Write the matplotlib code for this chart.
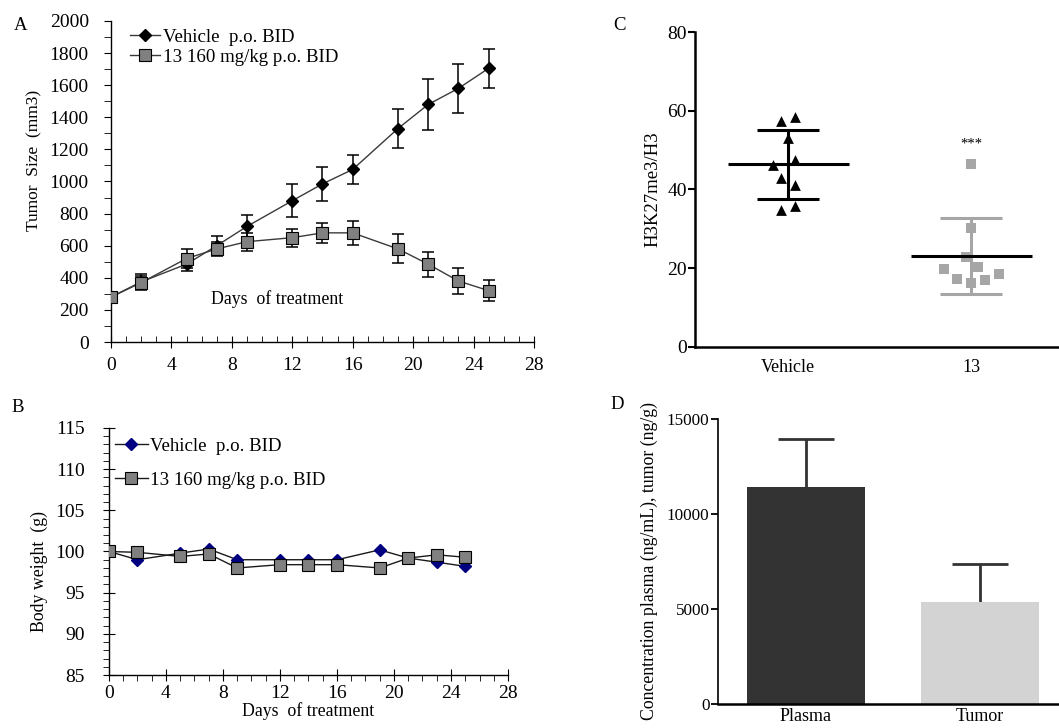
import numpy as np
import matplotlib
matplotlib.use('Agg')
import matplotlib.pyplot as plt
from matplotlib.ticker import MultipleLocator

plt.rcParams['font.family'] = ['Liberation Serif', 'DejaVu Serif']
plt.rcParams['axes.linewidth'] = 1.0

# ---- data ----
days = [0, 2, 5, 7, 9, 12, 14, 16, 19, 21, 23, 25]

# A: tumor size (mm3)
tumor_vehicle = [280, 375, 485, 600, 720, 880, 985, 1075, 1330, 1480, 1580, 1705]
tumor_vehicle_err = [20, 50, 45, 60, 70, 103, 105, 93, 120, 157, 155, 120]
tumor_13 = [280, 370, 520, 580, 625, 650, 680, 680, 580, 485, 380, 320]
tumor_13_err = [20, 40, 58, 45, 55, 55, 63, 75, 90, 78, 78, 65]

# B: body weight (g)
bw_vehicle = [100.0, 99.0, 99.8, 100.3, 99.0, 99.0, 99.0, 99.0, 100.2, 99.2, 98.7, 98.2]
bw_13 = [100.0, 99.9, 99.4, 99.7, 98.0, 98.4, 98.4, 98.4, 98.0, 99.2, 99.6, 99.3]

labels_ab = ['Vehicle  p.o. BID', '13 160 mg/kg p.o. BID']

# C: H3K27me3/H3
c_groups = ['Vehicle', '13']
c_vehicle = [57.4, 58.5, 53.2, 46.2, 47.5, 42.8, 41.1, 34.9, 35.7]
c_vehicle_jit = [-0.04, 0.038, 0.0, -0.082, 0.038, -0.04, 0.038, -0.04, 0.038]
c_13 = [46.4, 30.1, 22.8, 20.3, 19.7, 18.6, 17.3, 17.0, 16.2]
c_13_jit = [0.0, 0.0, -0.031, 0.036, -0.151, 0.151, -0.077, 0.077, 0.0]

# D: concentrations
d_groups = ['Plasma', 'Tumor']
d_means = [11400, 5350]
d_err = [2550, 2030]

fig = plt.figure(figsize=(10.59, 7.28), dpi=100)

# ---------------- A ----------------
axA = fig.add_axes([0.1048, 0.5302, 0.3994, 0.441])
axA.errorbar(days, tumor_vehicle, yerr=tumor_vehicle_err, fmt='none', ecolor='black',
             elinewidth=1.1, capsize=4, capthick=1.1, zorder=2)
axA.errorbar(days, tumor_13, yerr=tumor_13_err, fmt='none', ecolor='black',
             elinewidth=1.1, capsize=4, capthick=1.1, zorder=2)
axA.plot(days, tumor_vehicle, color='#3a3a3a', lw=1.0, marker='D', ms=6,
         mfc='black', mec='black', label=labels_ab[0], zorder=3)
axA.plot(days, tumor_13, color='#3a3a3a', lw=1.0, marker='s', ms=8,
         mfc='#808080', mec='black', mew=0.8, label=labels_ab[1], zorder=4)
axA.set_xlim(0, 28)
axA.set_ylim(0, 2000)
axA.xaxis.set_major_locator(MultipleLocator(4))
axA.xaxis.set_minor_locator(MultipleLocator(1))
axA.yaxis.set_major_locator(MultipleLocator(200))
axA.yaxis.set_minor_locator(MultipleLocator(100))
axA.tick_params(axis='x', which='major', direction='inout', length=8, labelsize=14, pad=7)
axA.tick_params(axis='x', which='minor', direction='in', length=4)
axA.tick_params(axis='y', which='both', direction='out', length=5, labelsize=14, pad=11)
axA.spines['top'].set_visible(False)
axA.spines['right'].set_visible(False)
axA.set_ylabel('Tumor  Size  (mm3)', fontsize=12.5)
axA.yaxis.set_label_coords(-0.161, 0.566)
axA.text(11, 270, 'Days  of treatment', fontsize=12.8, ha='center', va='center')
axA.legend(loc='upper left', bbox_to_anchor=(0.045, 0.977), frameon=False, fontsize=13.6,
           handlelength=1.6, handletextpad=0.15, labelspacing=0.17,
           borderaxespad=0, borderpad=0)

# ---------------- B ----------------
axB = fig.add_axes([0.1029, 0.0728, 0.3768, 0.3393])
axB.plot(days, bw_vehicle, color='#1a1a1a', lw=1.0, marker='D', ms=6,
         mfc='#000080', mec='#000080', label=labels_ab[0], zorder=3)
axB.plot(days, bw_13, color='#1a1a1a', lw=1.0, marker='s', ms=8,
         mfc='#808080', mec='black', mew=0.8, label=labels_ab[1], zorder=4)
axB.set_xlim(0, 28)
axB.set_ylim(85, 115)
axB.xaxis.set_major_locator(MultipleLocator(4))
axB.xaxis.set_minor_locator(MultipleLocator(1))
axB.yaxis.set_major_locator(MultipleLocator(5))
axB.yaxis.set_minor_locator(MultipleLocator(1))
axB.tick_params(axis='both', which='major', direction='inout', length=9, labelsize=14)
axB.tick_params(axis='x', which='major', pad=3)
axB.tick_params(axis='y', which='major', pad=13)
axB.tick_params(axis='both', which='minor', direction='out', length=4)
axB.spines['top'].set_visible(False)
axB.spines['right'].set_visible(False)
axB.set_ylabel('Body weight  (g)', fontsize=12.8)
axB.yaxis.set_label_coords(-0.153, 0.417)
axB.set_xlabel('Days  of treatment', fontsize=12.8, labelpad=0)
axB.legend(loc='upper left', bbox_to_anchor=(0.015, 0.962), frameon=False, fontsize=13.6,
           handlelength=1.75, handletextpad=0.1, labelspacing=0.91,
           borderaxespad=0, borderpad=0)

# ---------------- C ----------------
axC = fig.add_axes([0.6563, 0.5234, 0.3437, 0.4326])
c_pos = np.arange(len(c_groups))
c_sets = [c_vehicle, c_13]
c_jits = [c_vehicle_jit, c_13_jit]
c_markers = ['^', 's']
c_colors = ['black', '#a6a6a6']
for i, (vals, jit) in enumerate(zip(c_sets, c_jits)):
    axC.scatter(c_pos[i] + np.array(jit), vals, marker=c_markers[i], s=60,
                color=c_colors[i], zorder=3, linewidths=0)
    m = np.mean(vals)
    sd = np.std(vals, ddof=1)
    axC.errorbar(c_pos[i], m, yerr=sd, fmt='none', ecolor=c_colors[i],
                 elinewidth=2.2, capsize=22, capthick=2.2, zorder=2)
    axC.hlines(m, c_pos[i] - 0.33, c_pos[i] + 0.33, color='black', lw=2.2, zorder=4)
axC.text(c_pos[1], 51.5, '***', ha='center', va='center', fontsize=10.5)
axC.set_xlim(-0.51, 1.48)
axC.set_ylim(0, 80)
axC.yaxis.set_major_locator(MultipleLocator(20))
axC.set_xticks(c_pos)
axC.set_xticklabels(c_groups, fontsize=13)
axC.tick_params(axis='x', length=0, pad=9)
axC.tick_params(axis='y', direction='out', length=5, width=1.5, labelsize=14, pad=1)
for s in ['top', 'right']:
    axC.spines[s].set_visible(False)
for s in ['left', 'bottom']:
    axC.spines[s].set_linewidth(1.8)
axC.set_ylabel('H3K27me3/H3', fontsize=13.5)
axC.yaxis.set_label_coords(-0.093, 0.5)

# ---------------- D ----------------
axD = fig.add_axes([0.678, 0.033, 0.322, 0.3915])
d_pos = np.arange(len(d_groups))
axD.bar(d_pos, d_means, width=0.68, color=['#333333', '#d3d3d3'], zorder=2)
eb = axD.errorbar(d_pos, d_means, yerr=[[0, 0], d_err], fmt='none', ecolor='#333333',
                  elinewidth=2.0, capsize=20, capthick=2.0, zorder=1)
eb[1][0].set_visible(False)  # no lower cap
axD.set_xlim(-0.507, 1.458)
axD.set_ylim(0, 15000)
axD.yaxis.set_major_locator(MultipleLocator(5000))
axD.set_xticks(d_pos)
axD.set_xticklabels(d_groups, fontsize=13)
axD.tick_params(axis='x', length=0, pad=3)
axD.tick_params(axis='y', direction='out', length=5, width=1.3, labelsize=12.3, pad=1)
for s in ['top', 'right']:
    axD.spines[s].set_visible(False)
axD.spines['left'].set_linewidth(1.2)
axD.spines['bottom'].set_linewidth(1.8)
axD.set_ylabel('Concentration plasma (ng/mL), tumor (ng/g)', fontsize=12.8)
axD.yaxis.set_label_coords(-0.176, 0.5)

# panel letters
for letter, x, y in [('A', 0.019, 0.965), ('B', 0.017, 0.44), ('C', 0.585, 0.965), ('D', 0.583, 0.445)]:
    fig.text(x, y, letter, fontsize=13.5, ha='center', va='center')

fig.savefig('out.png', dpi=100)
